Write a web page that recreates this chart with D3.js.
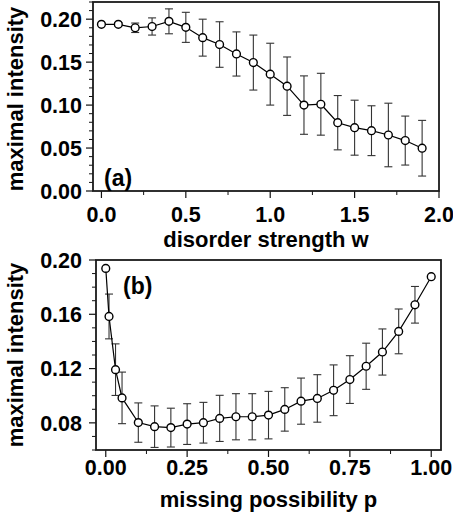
<!DOCTYPE html>
<html>
<head>
<meta charset="utf-8">
<script src="https://cdn.jsdelivr.net/npm/d3@7"></script>
<style>
  body { margin: 0; background: #fff; }
  svg { display: block; }
  text { font-family: "Liberation Sans", Arial, Helvetica, sans-serif; font-weight: bold; fill: #000; }
</style>
</head>
<body>
<svg id="chart" width="453" height="517"></svg>
<script>
// ---- Data: panel (a) ----
const wValues = [0.0,0.1,0.2,0.3,0.4,0.5,0.6,0.7,0.8,0.9,1.0,1.1,1.2,1.3,1.4,1.5,1.6,1.7,1.8,1.9];
const intensityA = [0.194,0.194,0.190,0.1915,0.1975,0.1905,0.1785,0.1705,0.1595,0.1495,0.136,0.122,0.100,0.101,0.0795,0.0737,0.0702,0.0652,0.0587,0.0498];
const errA = [0.0,0.002,0.0055,0.010,0.0145,0.0175,0.0215,0.0265,0.0257,0.032,0.036,0.034,0.034,0.036,0.0316,0.032,0.029,0.037,0.0285,0.0324];
const xTicksA = [0.0,0.5,1.0,1.5,2.0];
const yTicksA = [0.00,0.05,0.10,0.15,0.20];

// ---- Data: panel (b) ----
const pValues = [0.00,0.01,0.03,0.05,0.10,0.15,0.20,0.25,0.30,0.35,0.40,0.45,0.50,0.55,0.60,0.65,0.70,0.75,0.80,0.85,0.90,0.95,1.00];
const intensityB = [0.1938,0.1584,0.1192,0.0984,0.0802,0.0772,0.0765,0.0791,0.0801,0.0833,0.0845,0.0845,0.0857,0.0899,0.0960,0.0980,0.1040,0.1119,0.1217,0.1322,0.1474,0.1670,0.1877];
const errB = [0.0,0.0165,0.019,0.019,0.0145,0.0153,0.0143,0.015,0.015,0.017,0.017,0.017,0.0175,0.016,0.017,0.0175,0.0187,0.0176,0.017,0.017,0.0165,0.0135,0.0];
const xTicksB = [0.00,0.25,0.50,0.75,1.00];
const yTicksB = [0.08,0.12,0.16,0.20];

const svg = d3.select("#chart");

function panel(cfg) {
  const g = svg.append("g");
  const x = d3.scaleLinear().domain(cfg.xDomain).range([cfg.left, cfg.right]);
  const y = d3.scaleLinear().domain(cfg.yDomain).range([cfg.bottom, cfg.top]);

  const yMinor = d3.range(Math.round(cfg.yDomain[0]*100), Math.round(cfg.yDomain[1]*100)+1).map(v => v/100)
    .filter(v => !cfg.yTicks.some(t => Math.abs(t - v) < 1e-9));
  const xMinor = cfg.xMinor;

  const tickStroke = "#111";
  g.selectAll("line.ymin").data(yMinor).join("line")
    .attr("x1", cfg.left - 4).attr("x2", cfg.left)
    .attr("y1", d => y(d)).attr("y2", d => y(d))
    .attr("stroke", tickStroke).attr("stroke-width", 1);
  g.selectAll("line.ymaj").data(cfg.yTicks).join("line")
    .attr("x1", cfg.left - 7).attr("x2", cfg.left)
    .attr("y1", d => y(d)).attr("y2", d => y(d))
    .attr("stroke", tickStroke).attr("stroke-width", 1.2);
  g.selectAll("line.xmin").data(xMinor).join("line")
    .attr("x1", d => x(d)).attr("x2", d => x(d))
    .attr("y1", cfg.bottom).attr("y2", cfg.bottom + 4)
    .attr("stroke", tickStroke).attr("stroke-width", 1);
  g.selectAll("line.xmaj").data(cfg.xTicks).join("line")
    .attr("x1", d => x(d)).attr("x2", d => x(d))
    .attr("y1", cfg.bottom).attr("y2", cfg.bottom + 7)
    .attr("stroke", tickStroke).attr("stroke-width", 1.2);

  // tick labels
  g.selectAll("text.ylab").data(cfg.yTicks).join("text")
    .attr("x", 82).attr("y", d => y(d)).attr("dy", "0.36em")
    .attr("text-anchor", "end").attr("font-size", 21.5)
    .text(d => d3.format(".2f")(d));
  g.selectAll("text.xlab").data(cfg.xTicks).join("text")
    .attr("x", d => x(d)).attr("y", cfg.xTickY)
    .attr("text-anchor", "middle").attr("font-size", 21.5)
    .text(d => d3.format(cfg.xFmt)(d));

  // frame
  g.append("rect")
    .attr("x", cfg.left).attr("y", cfg.top)
    .attr("width", cfg.right - cfg.left).attr("height", cfg.bottom - cfg.top)
    .attr("fill", "none").attr("stroke", "#1a1a1a").attr("stroke-width", 1.8);

  // axis titles
  g.append("text")
    .attr("transform", `translate(23,${cfg.yTitleC}) rotate(-90)`)
    .attr("text-anchor", "middle").attr("font-size", 22)
    .text("maximal intensity");
  g.append("text")
    .attr("x", (cfg.left + cfg.right)/2).attr("y", cfg.xTitleY)
    .attr("text-anchor", "middle").attr("font-size", 22)
    .text(cfg.xTitle);

  // panel label
  g.append("text")
    .attr("x", cfg.labelX).attr("y", cfg.labelY)
    .attr("font-size", 23).text(cfg.label);

  const data = cfg.xs.map((xv, i) => ({ x: xv, y: cfg.ys[i], e: cfg.es[i] }));

  // error bars
  const eb = g.append("g").attr("stroke", "#333").attr("stroke-width", 1.1);
  data.filter(d => d.e > 0).forEach(d => {
    const x0 = x(d.x), y1 = y(d.y + d.e), y2 = y(d.y - d.e);
    eb.append("line").attr("x1", x0).attr("x2", x0).attr("y1", y1).attr("y2", y2);
    eb.append("line").attr("x1", x0 - 4).attr("x2", x0 + 4).attr("y1", y1).attr("y2", y1);
    eb.append("line").attr("x1", x0 - 4).attr("x2", x0 + 4).attr("y1", y2).attr("y2", y2);
  });

  // line
  g.append("path").datum(data)
    .attr("fill", "none").attr("stroke", "#000").attr("stroke-width", 1.2)
    .attr("d", d3.line().x(d => x(d.x)).y(d => y(d.y)));

  // markers
  g.selectAll("circle").data(data).join("circle")
    .attr("cx", d => x(d.x)).attr("cy", d => y(d.y)).attr("r", 3.9)
    .attr("fill", "#fff").attr("stroke", "#000").attr("stroke-width", 1.4);
}

panel({
  left: 93, right: 439, top: 2, bottom: 191,
  xDomain: [-0.05, 2.0], yDomain: [0, 0.22],
  xTicks: xTicksA, yTicks: yTicksA, xMinor: [0.25,0.75,1.25,1.75], xFmt: ".1f",
  xs: wValues, ys: intensityA, es: errA,
  xTickY: 221.5, yTitleC: 99,
  xTitle: "disorder strength w", xTitleY: 246.5,
  label: "(a)", labelX: 104, labelY: 186
});

panel({
  left: 96, right: 441, top: 260, bottom: 450,
  xDomain: [-0.03, 1.03], yDomain: [0.06, 0.20],
  xTicks: xTicksB, yTicks: yTicksB, xMinor: [0.125,0.375,0.625,0.875], xFmt: ".2f",
  xs: pValues, ys: intensityB, es: errB,
  xTickY: 475, yTitleC: 355,
  xTitle: "missing possibility p", xTitleY: 506.5,
  label: "(b)", labelX: 123, labelY: 294
});
</script>
</body>
</html>
